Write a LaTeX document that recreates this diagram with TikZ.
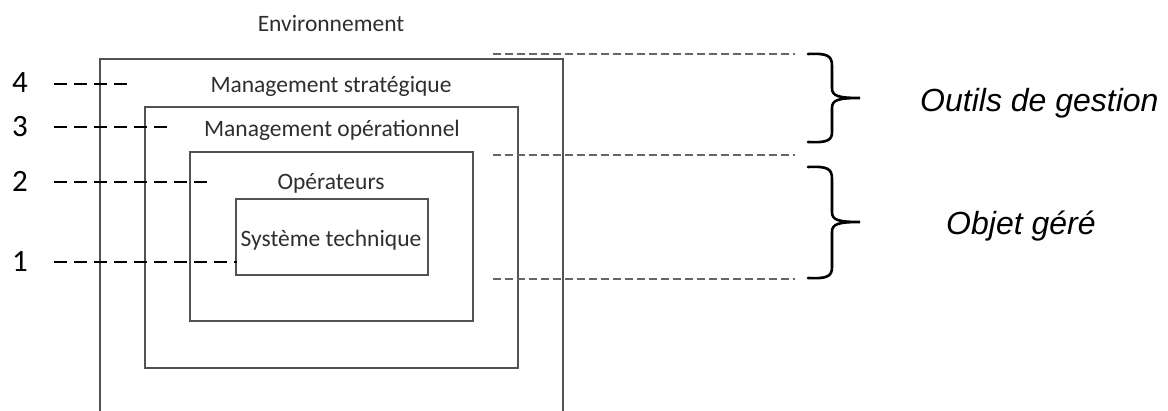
\documentclass[tikz,border=0pt]{standalone}
\usepackage{fontspec}
\setmainfont{Carlito}
\newfontfamily\arialfont{Liberation Sans}
\begin{document}
\begin{tikzpicture}[x=1pt,y=-1pt,
  boxline/.style={draw=black!68,line width=2pt},
  lbl/.style={anchor=base,inner sep=0pt,text=black!82,font=\fontsize{23.5}{28}\selectfont},
  num/.style={anchor=base,inner sep=0pt,text=black,font=\fontsize{31}{34}\selectfont},
  leveldash/.style={draw=black,line width=2.4pt,dash pattern=on 13pt off 7pt},
  sepdash/.style={draw=black!60,line width=1.6pt,dash pattern=on 8pt off 4pt},
  bracepath/.style={draw=black,line width=2.6pt,line cap=round},
  side/.style={anchor=base west,inner sep=0pt,font=\arialfont\itshape\fontsize{32}{36}\selectfont}]
\useasboundingbox (0,0) rectangle (1168,411);
% boxes
\draw[boxline] (100,411) -- (100,59) -- (563,59) -- (563,411);
\draw[boxline] (145,107) rectangle (518,368);
\draw[boxline] (190,152) rectangle (473,321);
\draw[boxline] (236,199) rectangle (428,275);
% labels
\node[lbl] (env) at (331,32) {Environnement};
\node[lbl] (ms) at (331,93) {Management stratégique};
\node[lbl] (mo) at (332,137) {Management opérationnel};
\node[lbl] (op) at (331,190) {Opérateurs};
\node[lbl] (st) at (331,247) {Système technique};
% numbers
\node[num] (n4) at (20,93) {4};
\node[num] (n3) at (20,137) {3};
\node[num] (n2) at (20,192) {2};
\node[num] (n1) at (20,272) {1};
\coordinate (s4) at (54,84); \coordinate (e4) at (128,84);
\coordinate (s3) at (54,127); \coordinate (e3) at (171,127);
\coordinate (s2) at (54,182); \coordinate (e2) at (210,182);
\coordinate (s1) at (54,262); \coordinate (e1) at (237,262);
\draw[leveldash] (s4) -- (e4);
\draw[leveldash] (s3) -- (e3);
\draw[leveldash] (s2) -- (e2);
\draw[leveldash] (s1) -- (e1);
% separator dashed lines
\coordinate (a1) at (493,54); \coordinate (b1) at (795,54);
\coordinate (a2) at (493,155); \coordinate (b2) at (795,155);
\coordinate (a3) at (493,279); \coordinate (b3) at (795,279);
\draw[sepdash] (a1) -- (b1);
\draw[sepdash] (a2) -- (b2);
\draw[sepdash] (a3) -- (b3);
% braces
\draw[bracepath] (808,54) .. controls (828,53) and (832,56) .. (832,66) -- (832,88)
  .. controls (832,96) and (838,98) .. (860,98)
  .. controls (838,98) and (832,100) .. (832,108) -- (832,132)
  .. controls (832,140) and (828,143) .. (808,142);
\draw[bracepath] (808,167) .. controls (828,166) and (832,169) .. (832,179) -- (832,212)
  .. controls (832,220) and (838,222) .. (860,222)
  .. controls (838,222) and (832,224) .. (832,232) -- (832,267)
  .. controls (832,276) and (828,279) .. (808,278);
% side labels
\node[side] (og) at (920,112) {Outils de gestion};
\node[side] (ob) at (946,235) {Objet géré};
\end{tikzpicture}
\end{document}
